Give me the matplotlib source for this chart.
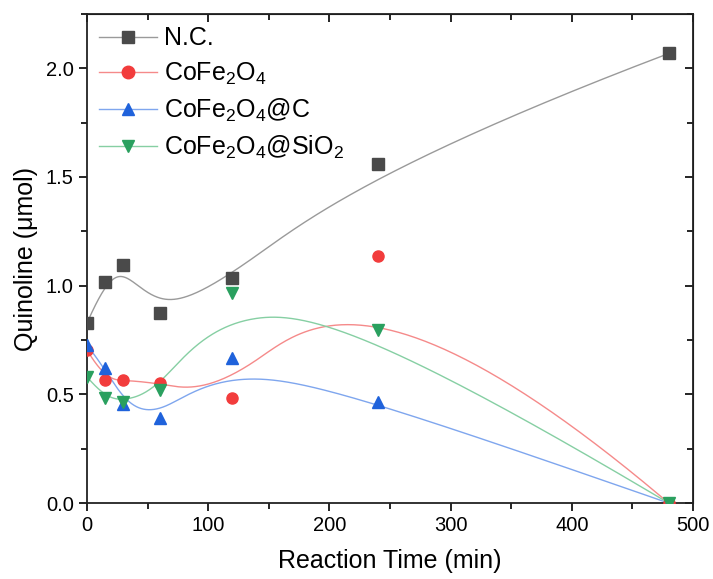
import numpy as np
import matplotlib
matplotlib.use("Agg")
import matplotlib.pyplot as plt
from matplotlib.ticker import MultipleLocator, FormatStrFormatter

plt.rcParams['font.family'] = ['Liberation Sans', 'DejaVu Sans']
plt.rcParams['mathtext.default'] = 'regular'

time = [0, 15, 30, 60, 120, 240, 480]
nc = [0.828, 1.017, 1.095, 0.874, 1.035, 1.560, 2.068]
cofe = [0.704, 0.566, 0.566, 0.552, 0.485, 1.136, 0.0]
cofe_c = [0.727, 0.620, 0.455, 0.390, 0.667, 0.466, 0.0]
cofe_si = [0.581, 0.483, 0.466, 0.520, 0.967, 0.796, 0.0]

labels = ['N.C.', 'CoFe$_{2}$O$_{4}$', 'CoFe$_{2}$O$_{4}$@C', 'CoFe$_{2}$O$_{4}$@SiO$_{2}$']
series = [nc, cofe, cofe_c, cofe_si]
colors = ['#4a4a4a', '#f23c3c', '#1f62db', '#2aa05f']
line_colors = ['#9a9a9a', '#f58a8a', '#7fa6ee', '#86cfa3']
markers = ['s', 'o', '^', 'v']


def basis(knots, t, k):
    n = len(t)
    N = np.zeros((n, len(knots) - 1))
    for i in range(len(knots) - 1):
        N[:, i] = ((t >= knots[i]) & (t < knots[i + 1])).astype(float)
    for d in range(1, k + 1):
        Nn = np.zeros((n, len(knots) - 1 - d))
        for i in range(len(knots) - 1 - d):
            den1 = knots[i + d] - knots[i]
            den2 = knots[i + d + 1] - knots[i + 1]
            term = np.zeros(n)
            if den1 > 0:
                term += (t - knots[i]) / den1 * N[:, i]
            if den2 > 0:
                term += (knots[i + d + 1] - t) / den2 * N[:, i + 1]
            Nn[:, i] = term
        N = Nn
    return N


def bspline(cx, cy, k=3, n=400):
    """Clamped B-spline connection line using the data points as control points."""
    P = np.column_stack([cx, cy]).astype(float)
    m = len(P)
    knots = np.concatenate([[0.0] * k, np.linspace(0, 1, m - k + 1), [1.0] * k])
    t = np.linspace(0, 1 - 1e-9, n)
    C = basis(knots, t, k) @ P
    C = np.vstack([C, P[-1]])
    return C[:, 0], C[:, 1]


fig = plt.figure(figsize=(7.13, 5.79), dpi=100)
ax = fig.add_axes([0.122, 0.131, 0.85, 0.845])

for y, lab, c, lc, mk in zip(series, labels, colors, line_colors, markers):
    sx, sy = bspline(time, y, k=3)
    ax.plot(sx, sy, color=lc, lw=1.0, zorder=2)
    ax.plot(time, y, linestyle='none', marker=mk, color=c, markersize=8, zorder=3)
    ax.plot([], [], color=lc, lw=1.0, marker=mk, markerfacecolor=c, markeredgecolor=c,
            markersize=9, label=lab)

ax.set_xlim(0, 500)
ax.set_ylim(0, 2.25)
ax.xaxis.set_major_locator(MultipleLocator(100))
ax.xaxis.set_minor_locator(MultipleLocator(50))
ax.yaxis.set_major_locator(MultipleLocator(0.5))
ax.yaxis.set_minor_locator(MultipleLocator(0.25))
ax.tick_params(which='both', direction='out', labelsize=14.5, width=1.2)
ax.tick_params(which='major', length=6)
ax.tick_params(which='minor', length=4)
ax.yaxis.set_major_formatter(FormatStrFormatter('%.1f'))
for s in ax.spines.values():
    s.set_linewidth(1.3)
    s.set_color('#222222')

top = ax.secondary_xaxis('top')
top.xaxis.set_major_locator(MultipleLocator(100))
top.xaxis.set_minor_locator(MultipleLocator(50))
top.tick_params(which='both', direction='in', labeltop=False, width=1.2)
top.tick_params(which='major', length=6)
top.tick_params(which='minor', length=4)
right = ax.secondary_yaxis('right')
right.yaxis.set_major_locator(MultipleLocator(0.5))
right.yaxis.set_minor_locator(MultipleLocator(0.25))
right.tick_params(which='both', direction='in', labelright=False, width=1.2)
right.tick_params(which='major', length=6)
right.tick_params(which='minor', length=4)

ax.set_xlabel('Reaction Time (min)', fontsize=18, labelpad=10)
ax.set_ylabel('Quinoline (μmol)', fontsize=18, labelpad=6)

ax.legend(loc='upper left', frameon=False, fontsize=18, handlelength=2.3,
          handletextpad=0.3, labelspacing=0.4, borderaxespad=0.1)

fig.savefig('out.png', dpi=100)
